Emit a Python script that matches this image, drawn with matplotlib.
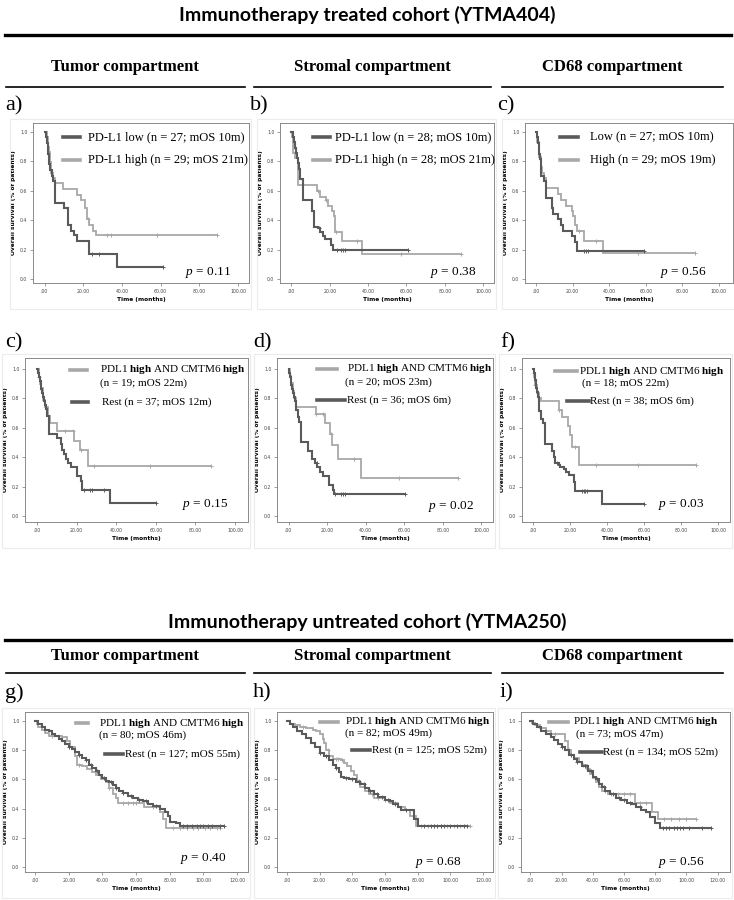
import numpy as np
import matplotlib
matplotlib.use("Agg")
import matplotlib.pyplot as plt
from matplotlib.lines import Line2D
from matplotlib.patches import Rectangle

plt.rcParams['mathtext.fontset'] = 'custom'
plt.rcParams['mathtext.rm'] = 'Liberation Serif'
plt.rcParams['mathtext.it'] = 'Liberation Serif:italic'
plt.rcParams['mathtext.bf'] = 'Liberation Serif:bold'

# ---- data: Kaplan-Meier steps (time in months, survival), censor times, last follow-up ----
# panel a (tumor, treated)
a_dark_t = [0, 0.5, 1, 1.5, 2, 2.5, 3, 4, 4.5, 5.3, 10, 12, 13.5, 15, 17, 23, 37.5]
a_dark_s = [1.0, 0.963, 0.926, 0.889, 0.852, 0.78, 0.74, 0.70, 0.67, 0.52, 0.48, 0.37, 0.33, 0.30, 0.26, 0.17, 0.085]
a_dark_c = [24.5, 28.3]
a_dark_end = 61
a_light_t = [0, 1, 1.5, 2, 2.5, 3, 3.5, 4.2, 5.6, 9.6, 17, 18.7, 21, 22, 23, 25, 26.5]
a_light_s = [1.0, 0.966, 0.931, 0.897, 0.862, 0.793, 0.724, 0.69, 0.65, 0.61, 0.57, 0.54, 0.48, 0.41, 0.37, 0.33, 0.30]
a_light_c = [22.5, 32.3, 34.4, 58]
a_light_end = 89.4

# panel b (stromal, treated)
b_dark_t = [0, 1, 1.5, 2, 2.5, 3, 3.5, 4, 4.5, 5.9, 10.7, 12, 14, 15, 16.3, 17.7, 20.8, 21.7]
b_dark_s = [1.0, 0.964, 0.929, 0.893, 0.857, 0.821, 0.786, 0.75, 0.68, 0.536, 0.464, 0.357, 0.345, 0.32, 0.29, 0.27, 0.23, 0.20]
b_dark_c = [14.5, 24, 26, 27, 28]
b_dark_end = 60.6
b_light_t = [0, 0.5, 1, 2, 3.5, 13.3, 14.7, 17.8, 18.9, 21.3, 22, 22.5, 26.4, 37]
b_light_s = [1.0, 0.964, 0.857, 0.82, 0.64, 0.60, 0.56, 0.54, 0.50, 0.46, 0.43, 0.32, 0.26, 0.17]
b_light_c = [14, 18, 23, 34, 57]
b_light_end = 88.7

# panel c (CD68, treated)
c_dark_t = [0, 0.5, 1, 1.5, 2, 2.5, 3, 4.4, 5.5, 8.7, 9.5, 12.2, 13.5, 14.5, 19.5, 21.3, 22.5]
c_dark_s = [1.0, 0.963, 0.926, 0.852, 0.815, 0.778, 0.70, 0.67, 0.55, 0.48, 0.44, 0.41, 0.37, 0.325, 0.29, 0.25, 0.19]
c_dark_c = [26.5, 27.5, 28.3]
c_dark_end = 59
c_light_t = [0, 0.5, 0.8, 1.5, 2.5, 3.5, 4.2, 5.5, 12.2, 13.6, 16.4, 19.5, 20.5, 21.5, 22.2, 26.4, 36.7]
c_light_s = [1.0, 0.966, 0.93, 0.83, 0.76, 0.72, 0.69, 0.62, 0.58, 0.54, 0.50, 0.46, 0.43, 0.37, 0.33, 0.26, 0.18]
c_light_c = [23.5, 33, 56]
c_light_end = 86.7

# panel c2 (tumor, treated, PDL1 & CMTM6)
c2_light_t = [0, 1, 1.5, 2, 3, 4.2, 5.6, 6.4, 10.1, 18.5, 21.6, 25.8]
c2_light_s = [1.0, 0.947, 0.895, 0.87, 0.79, 0.74, 0.68, 0.63, 0.58, 0.51, 0.45, 0.34]
c2_light_c = [1, 14.3, 18.2, 22.5, 29, 57]
c2_light_end = 88
c2_dark_t = [0, 0.5, 1, 1.5, 2, 2.5, 3, 3.5, 4, 4.5, 5, 6, 10.1, 12, 12.8, 13.7, 14.5, 15.5, 17, 20.4, 22, 23, 36.8]
c2_dark_s = [1.0, 0.973, 0.946, 0.919, 0.865, 0.838, 0.811, 0.784, 0.757, 0.73, 0.68, 0.56, 0.53, 0.49, 0.45, 0.42, 0.39, 0.36, 0.33, 0.27, 0.24, 0.18, 0.09]
c2_dark_c = [24, 27, 28, 34]
c2_dark_end = 60

# panel d (stromal, treated, PDL1 & CMTM6)
d_light_t = [0, 0.5, 1.5, 2.5, 3, 3.7, 14.4, 19, 21.7, 22.5, 25.4, 37.3]
d_light_s = [1.0, 0.95, 0.90, 0.85, 0.80, 0.74, 0.69, 0.63, 0.56, 0.48, 0.39, 0.26]
d_light_c = [14.4, 18, 22, 34, 57]
d_light_end = 88
d_dark_t = [0, 0.3, 0.6, 1, 1.5, 2, 2.5, 3, 3.5, 4, 5, 5.5, 6.3, 10.2, 11.9, 13.6, 14.7, 16.1, 17.8, 21.2, 22.9, 23.7]
d_dark_s = [1.0, 0.972, 0.944, 0.917, 0.889, 0.861, 0.833, 0.806, 0.778, 0.72, 0.67, 0.64, 0.50, 0.44, 0.39, 0.36, 0.33, 0.30, 0.27, 0.21, 0.18, 0.15]
d_dark_c = [14.5, 24, 27, 28, 29]
d_dark_end = 60.2

# panel f (CD68, treated, PDL1 & CMTM6)
f_light_t = [0, 0.5, 1, 2, 3, 4.1, 13.9, 15.7, 18.9, 20, 21, 25]
f_light_s = [1.0, 0.944, 0.889, 0.833, 0.80, 0.78, 0.72, 0.67, 0.61, 0.55, 0.47, 0.35]
f_light_c = [1, 14, 22.5, 34, 57]
f_light_end = 88
f_dark_t = [0, 0.5, 1, 1.5, 2, 2.5, 3.2, 4.5, 5.3, 6.2, 10.3, 11.2, 12.1, 13.9, 14.8, 16.6, 17.8, 19.2, 21.9, 22.8, 37]
f_dark_s = [1.0, 0.974, 0.921, 0.868, 0.842, 0.81, 0.71, 0.66, 0.63, 0.49, 0.44, 0.40, 0.36, 0.35, 0.33, 0.32, 0.30, 0.28, 0.23, 0.17, 0.08]
f_dark_c = [13, 26.5, 27.5, 28.3, 29]
f_dark_end = 60

# panel g (tumor, untreated)
g_light_t = [0, 1, 2, 4, 6, 8, 16, 19, 21, 24, 25, 28, 31, 34, 36, 39, 42, 44, 46, 48, 49, 65, 74, 76, 78]
g_light_s = [1.0, 0.98, 0.96, 0.94, 0.92, 0.90, 0.89, 0.86, 0.82, 0.76, 0.70, 0.69, 0.67, 0.65, 0.63, 0.60, 0.58, 0.54, 0.50, 0.47, 0.44, 0.41, 0.38, 0.33, 0.27]
g_light_c = [10, 26, 44, 52, 55, 58, 60, 70, 82, 86, 90, 94, 97, 101, 104, 108]
g_light_end = 110
g_dark_t = [0, 2, 4, 6, 8, 10, 12, 14, 16, 18, 20, 22, 24, 26, 28, 30, 32, 34, 36, 38, 40, 42, 44, 46, 48, 50, 52, 55, 58, 61, 64, 67, 70, 74, 77, 79, 80, 84, 86]
g_dark_s = [1.0, 0.98, 0.96, 0.94, 0.93, 0.91, 0.90, 0.88, 0.86, 0.84, 0.82, 0.81, 0.79, 0.77, 0.75, 0.73, 0.70, 0.68, 0.66, 0.63, 0.61, 0.59, 0.58, 0.56, 0.54, 0.52, 0.51, 0.49, 0.47, 0.46, 0.45, 0.43, 0.42, 0.40, 0.38, 0.35, 0.31, 0.30, 0.28]
g_dark_c = [20, 26, 30, 33, 37, 41, 45, 48, 52, 57, 62, 66, 72, 88, 90, 93, 96, 98, 100, 103, 105, 110]
g_dark_end = 112

# panel h (stromal, untreated)
h_light_t = [0, 2, 5, 8, 12, 16, 18, 20, 22, 23, 24, 26, 28, 33, 35, 37, 39, 41, 43, 45, 48, 50, 53, 60, 63, 68, 72, 75, 79]
h_light_s = [1.0, 0.98, 0.97, 0.96, 0.95, 0.94, 0.93, 0.91, 0.88, 0.85, 0.80, 0.76, 0.74, 0.73, 0.71, 0.69, 0.66, 0.63, 0.59, 0.55, 0.52, 0.50, 0.47, 0.46, 0.44, 0.41, 0.39, 0.35, 0.28]
h_light_c = [10, 25, 30, 31, 34, 44, 47, 52, 56, 60, 66, 82, 86, 90, 94, 98, 102, 106]
h_light_end = 112
h_dark_t = [0, 2, 4, 6, 9, 12, 15, 17, 20, 23, 26, 28, 30, 32, 33, 35, 38, 42, 45, 48, 50, 53, 56, 60, 63, 65, 68, 70, 78, 80]
h_dark_s = [1.0, 0.98, 0.96, 0.93, 0.91, 0.885, 0.85, 0.82, 0.78, 0.76, 0.73, 0.70, 0.68, 0.65, 0.62, 0.61, 0.60, 0.58, 0.57, 0.54, 0.52, 0.50, 0.48, 0.46, 0.45, 0.43, 0.41, 0.39, 0.33, 0.28]
h_dark_c = [20, 24, 30, 36, 40, 44, 47, 51, 55, 58, 62, 66, 73, 84, 88, 90, 92, 94, 96, 100, 104, 108]
h_dark_end = 110

# panel i (CD68, untreated)
i_light_t = [0, 1, 3, 6, 10, 13, 22, 24, 26, 28, 31, 33, 36, 38, 40, 42, 44, 46, 50, 67, 78, 82]
i_light_s = [1.0, 0.99, 0.97, 0.95, 0.93, 0.91, 0.86, 0.80, 0.77, 0.75, 0.72, 0.70, 0.67, 0.64, 0.61, 0.58, 0.55, 0.52, 0.50, 0.44, 0.38, 0.33]
i_light_c = [16, 25, 34, 48, 52, 56, 60, 64, 70, 74, 86, 90, 95, 100]
i_light_end = 106
i_dark_t = [0, 2, 4, 7, 10, 13, 15, 18, 20, 22, 25, 28, 30, 33, 37, 40, 42, 44, 46, 48, 51, 55, 58, 62, 65, 68, 71, 74, 77, 80, 83]
i_dark_s = [1.0, 0.98, 0.96, 0.93, 0.91, 0.89, 0.87, 0.84, 0.82, 0.80, 0.77, 0.74, 0.72, 0.69, 0.66, 0.62, 0.60, 0.57, 0.55, 0.52, 0.50, 0.47, 0.46, 0.44, 0.43, 0.41, 0.39, 0.38, 0.34, 0.30, 0.265]
i_dark_c = [20, 26, 30, 35, 39, 43, 47, 53, 57, 60, 64, 70, 85, 87, 89, 92, 94, 96, 98, 102, 110]
i_dark_end = 116

# legend texts and p values
row1_labels = {
    'a': ['PD-L1 low (n = 27; mOS 10m)', 'PD-L1 high (n = 29; mOS 21m)'],
    'b': ['PD-L1 low (n = 28; mOS 10m)', 'PD-L1 high (n = 28; mOS 21m)'],
    'c': ['Low (n = 27; mOS 10m)', 'High (n = 29; mOS 19m)'],
}
combo_label = r'PDL1 $\mathbf{high}$ AND CMTM6 $\mathbf{high}$'
combo_n = {'c2': '(n = 19; mOS 22m)', 'd': '(n = 20; mOS 23m)', 'f': '(n = 18; mOS 22m)',
           'g': '(n = 80; mOS 46m)', 'h': '(n = 82; mOS 49m)', 'i': '(n = 73; mOS 47m)'}
rest_label = {'c2': 'Rest (n = 37; mOS 12m)', 'd': 'Rest (n = 36; mOS 6m)', 'f': 'Rest (n = 38; mOS 6m)',
              'g': 'Rest (n = 127; mOS 55m)', 'h': 'Rest (n = 125; mOS 52m)', 'i': 'Rest (n = 134; mOS 52m)'}
p_values = {'a': '0.11', 'b': '0.38', 'c': '0.56', 'c2': '0.15', 'd': '0.02', 'f': '0.03',
            'g': '0.40', 'h': '0.68', 'i': '0.56'}

W, H = 734, 900
DARK = '#5a5a5a'
LIGHT = '#a8a8a8'
SERIF = 'Liberation Serif'

fig = plt.figure(figsize=(W / 100, H / 100), dpi=100)


def fx(x):
    return x / W


def fy(y):
    return 1 - y / H


def hline(x0, x1, y, lw):
    fig.add_artist(Line2D([fx(x0), fx(x1)], [fy(y), fy(y)], color='black', lw=lw))


def km(ax, t, s, cens, end, color, lw):
    tt = list(t) + [end]
    ss = list(s) + [s[-1]]
    ax.step(tt, ss, where='post', color=color, lw=lw, solid_joinstyle='miter')
    cc = list(cens) + [end]
    idx = np.searchsorted(t, cc, side='right') - 1
    cy = [s[k] for k in idx]
    ax.plot(cc, cy, '+', color=color, ms=3.2, mew=0.7)


def make_axes(box, xmax, ylim, xticks):
    x0, y0, x1, y1 = box
    ax = fig.add_axes([fx(x0), fy(y1), fx(x1 - x0), (y1 - y0) / H])
    ax.set_xlim(-6, xmax)
    ax.set_ylim(*ylim)
    ax.set_yticks([0, 0.2, 0.4, 0.6, 0.8, 1.0])
    ax.set_yticklabels(['0.0', '0.2', '0.4', '0.6', '0.8', '1.0'])
    ax.set_xticks(xticks)
    ax.set_xticklabels(['.00'] + ['%d.00' % v for v in xticks[1:]])
    ax.tick_params(labelsize=3.3, length=2, width=0.5, color='#777777', labelcolor='#444444', pad=2)
    for sp in ax.spines.values():
        sp.set_color('#8a8a8a')
        sp.set_linewidth(0.7)
    ax.set_ylabel('Overall survival (% of patients)', fontsize=4.2, fontweight='bold', labelpad=3)
    ax.set_xlabel('Time (months)', fontsize=4.2, fontweight='bold', labelpad=2.5)
    # faint chart frame
    fig.add_artist(Rectangle((fx(x0 - 23), fy(y1 + 26)), (x1 - x0 + 25) / W, (y1 - y0 + 30) / H,
                             fill=False, ec='#ececec', lw=0.8))
    return ax


def legend_line(x0, x1, y, color):
    fig.add_artist(Line2D([fx(x0), fx(x1)], [fy(y), fy(y)], color=color, lw=2.6))


def ftext(x, y, s, **kw):
    kw.setdefault('fontsize', 9)
    kw.setdefault('family', SERIF)
    fig.text(fx(x), fy(y), s, va='center', **kw)


# ---- headers ----
fig.text(0.5, fy(15), 'Immunotherapy treated cohort (YTMA404)', ha='center', va='center',
         fontsize=14, fontweight='bold', family='Lato')
hline(5, 731, 35, 2.4)
fig.text(0.5, fy(622), 'Immunotherapy untreated cohort (YTMA250)', ha='center', va='center',
         fontsize=14, fontweight='bold', family='Lato')
hline(5, 731, 640, 2.4)

col_centers = [125, 372, 612]
col_names = ['Tumor compartment', 'Stromal compartment', 'CD68 compartment']
col_spans = [(6, 245), (254, 491), (502, 723)]
for hy, ly in [(67, 87), (656, 673)]:
    for cx, name, (s0, s1) in zip(col_centers, col_names, col_spans):
        fig.text(fx(cx), fy(hy), name, ha='center', va='center', fontsize=12,
                 fontweight='bold', family=SERIF)
        hline(s0, s1, ly, 1.2)

# ---- row 1 ----
row1 = [
    ('a', 'a)', (33, 123, 249, 283), 105.7, (a_dark_t, a_dark_s, a_dark_c, a_dark_end),
     (a_light_t, a_light_s, a_light_c, a_light_end), (63, 80, 88), (185, 273), 5),
    ('b', 'b)', (280, 123, 494, 283), 105.7, (b_dark_t, b_dark_s, b_dark_c, b_dark_end),
     (b_light_t, b_light_s, b_light_c, b_light_end), (313, 330, 335), (430, 272), 250),
    ('c', 'c)', (525, 123, 733, 283), 107.7, (c_dark_t, c_dark_s, c_dark_c, c_dark_end),
     (c_light_t, c_light_s, c_light_c, c_light_end), (560, 578, 590), (660, 272), 497),
]
for key, lab, box, xmax, dk, lt, (l0, l1, tx), (px, py), labx in row1:
    ax = make_axes(box, xmax, (-0.027, 1.061), [0, 20, 40, 60, 80, 100])
    km(ax, *lt, LIGHT, 1.3)
    km(ax, *dk, DARK, 1.5)
    fig.text(fx(labx), fy(106), lab, fontsize=16, family=SERIF, va='center')
    legend_line(l0, l1, 137, DARK)
    legend_line(l0, l1, 160, LIGHT)
    ftext(tx, 137, row1_labels[key][0])
    ftext(tx, 160, row1_labels[key][1])
    ftext(px, py, r'$p$ = ' + p_values[key], fontsize=9.5)

# ---- rows 2 and 3 ----
rows23 = [
    ('c2', 'c)', (25, 358, 248, 522), 106.5, (-0.04, 1.073), [0, 20, 40, 60, 80, 100],
     (c2_dark_t, c2_dark_s, c2_dark_c, c2_dark_end), (c2_light_t, c2_light_s, c2_light_c, c2_light_end),
     [(70, 87, 100, 370), (100, 383), (72, 88, 102, 402)], (182, 505), 5, 343),
    ('d', 'd)', (277, 358, 493, 522), 106.0, (-0.04, 1.073), [0, 20, 40, 60, 80, 100],
     (d_dark_t, d_dark_s, d_dark_c, d_dark_end), (d_light_t, d_light_s, d_light_c, d_light_end),
     [(317, 337, 347, 369), (345, 382), (317, 345, 347, 400)], (428, 506), 253, 343),
    ('f', 'f)', (522, 358, 730, 522), 106.5, (-0.04, 1.073), [0, 20, 40, 60, 80, 100],
     (f_dark_t, f_dark_s, f_dark_c, f_dark_end), (f_light_t, f_light_s, f_light_c, f_light_end),
     [(555, 577, 579, 371), (582, 383), (567, 589, 590, 401)], (658, 505), 500, 343),
    ('g', 'g)', (25, 712, 248, 872), 126.5, (-0.034, 1.062), [0, 20, 40, 60, 80, 100, 120],
     (g_dark_t, g_dark_s, g_dark_c, g_dark_end), (g_light_t, g_light_s, g_light_c, g_light_end),
     [(76, 88, 99, 723), (99, 735), (105, 123, 125, 754)], (180, 858), 5, 693),
    ('h', 'h)', (277, 712, 493, 872), 126.0, (-0.034, 1.062), [0, 20, 40, 60, 80, 100, 120],
     (h_dark_t, h_dark_s, h_dark_c, h_dark_end), (h_light_t, h_light_s, h_light_c, h_light_end),
     [(320, 338, 345, 722), (345, 733), (352, 370, 372, 750)], (415, 862), 253, 693),
    ('i', 'i)', (521, 712, 730, 872), 128.0, (-0.034, 1.062), [0, 20, 40, 60, 80, 100, 120],
     (i_dark_t, i_dark_s, i_dark_c, i_dark_end), (i_light_t, i_light_s, i_light_c, i_light_end),
     [(549, 568, 573, 722), (576, 734), (580, 602, 603, 752)], (658, 862), 500, 693),
]
for key, lab, box, xmax, ylim, xt, dk, lt, leg, (px, py), labx, laby in rows23:
    ax = make_axes(box, xmax, ylim, xt)
    km(ax, *lt, LIGHT, 1.3)
    km(ax, *dk, DARK, 1.5)
    fig.text(fx(labx), fy(laby), lab, fontsize=16, family=SERIF, va='center')
    (h0, h1, tx, ty), (nx, ny), (r0, r1, rx, ry) = leg
    legend_line(h0, h1, ty, LIGHT)
    ftext(tx, ty, combo_label, fontsize=8)
    ftext(nx, ny, combo_n[key], fontsize=8)
    legend_line(r0, r1, ry, DARK)
    ftext(rx, ry, rest_label[key], fontsize=8)
    ftext(px, py, r'$p$ = ' + p_values[key], fontsize=9.5)

fig.savefig('out.png', dpi=100)
